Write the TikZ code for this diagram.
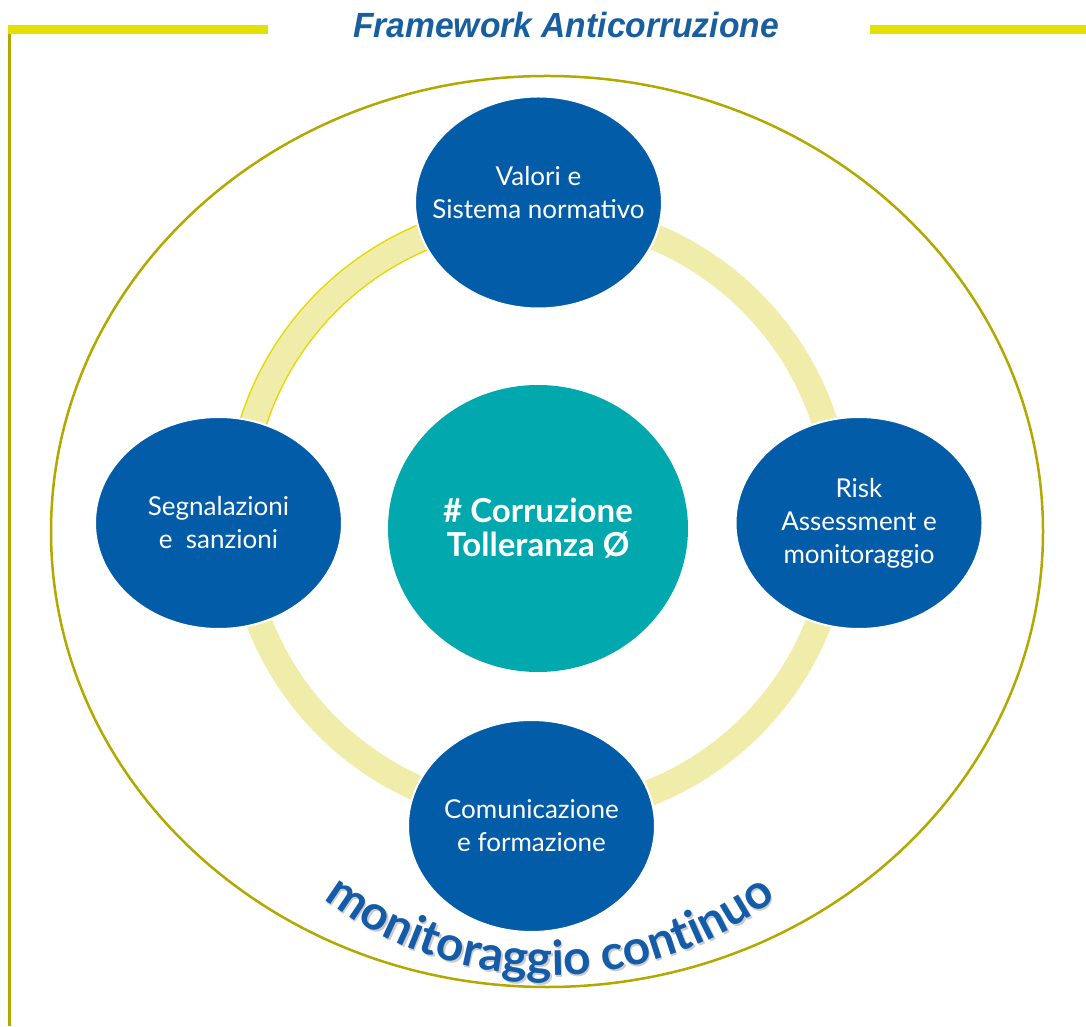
\documentclass[tikz,border=0pt]{standalone}
\usepackage{graphicx}
\usepackage{fontspec}
\setmainfont{Lato}
\newfontfamily\titlefont{Liberation Sans}
\usetikzlibrary{shapes.geometric,decorations.text}
\definecolor{pillarblue}{RGB}{3,92,168}
\definecolor{hubteal}{RGB}{1,169,175}
\definecolor{titleblue}{RGB}{25,95,160}
\definecolor{ringpale}{RGB}{240,237,170}
\definecolor{ringedge}{RGB}{226,218,0}
\definecolor{baryellow}{RGB}{228,224,0}
\definecolor{rimolive}{RGB}{178,168,0}
\definecolor{loopblue}{RGB}{20,92,168}
\newcommand{\nodeline}[1]{\makebox[0pt]{#1}}

\begin{document}
\begin{tikzpicture}
  [x=1pt, y=1pt,
   every node/.style={ellipse, inner sep=0pt, text=white, align=center},
   pillar/.style={fill=pillarblue, draw=white, line width=2pt, minimum width=247pt, minimum height=212pt, font=\fontsize{26}{33}\selectfont},
   hub/.style={fill=hubteal, minimum width=300pt, minimum height=287pt, font=\fontsize{33}{34}\selectfont\bfseries},
   band/.style={ringpale, line width=26pt},
   rim/.style={rimolive, line width=3pt},
   looptext/.style={decorate, decoration={text along path, text align=center, text color=#1,
     text={|\fontsize{48}{48}\selectfont\bfseries|monitoraggio continuo}}}]
  \useasboundingbox (0,0) rectangle (1086,1026);
  \draw[rim] (9.5,1001) -- (9.5,0);
  \draw[baryellow, line width=9pt] (8,996.5) -- (268,996.5);
  \draw[baryellow, line width=9pt] (870,996.5) -- (1086,996.5);
  \node[rectangle, text=titleblue, font=\titlefont\fontsize{35}{35}\selectfont\bfseries\itshape] (title) at (566,1001) {\scalebox{0.96}[1]{Framework Anticorruzione}};
  \draw[rim, line width=2.5pt] (547,494.5) ellipse [x radius=496, y radius=455.5];
  \coordinate (ring) at (539,512);
  \draw[band] (ring) circle [radius=300];
  \draw[ringedge, line width=28pt] (539,812) arc [start angle=90, end angle=180, radius=300];
  \draw[band, line width=25pt] (539,812) arc [start angle=90, end angle=180, radius=300];
  \node[pillar] (valori) at (538.5,823.5) {\nodeline{Valori e}\\\nodeline{Sistema normativo}\\[-13pt]};
  \node[pillar] (segnalazioni) at (218.5,503) {\nodeline{Segnalazioni}\\\nodeline{e\ \ sanzioni}};
  \node[pillar] (risk) at (859,503) {\nodeline{Risk}\\\nodeline{Assessment e}\\\nodeline{monitoraggio}};
  \node[pillar] (comunicazione) at (531.5,200) {\nodeline{Comunicazione}\\\nodeline{e formazione}};
  \node[hub] (tolleranza) at (538,497.5) {\nodeline{\# Corruzione}\\\nodeline{Tolleranza Ø}};
  \path[looptext=gray!40] (286.3,158.8) arc [start angle=225, end angle=315, radius=375];
  \path[looptext=loopblue] (284.8,160.8) arc [start angle=225, end angle=315, radius=375];
\end{tikzpicture}
\end{document}
